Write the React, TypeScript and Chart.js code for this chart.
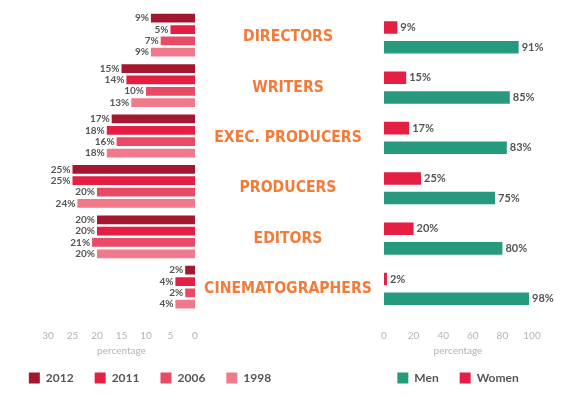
import { useEffect, useRef } from 'react';
import { Chart, registerables } from 'chart.js';

Chart.register(...registerables);

// ---- data ----
const categories = ['DIRECTORS', 'WRITERS', 'EXEC. PRODUCERS', 'PRODUCERS', 'EDITORS', 'CINEMATOGRAPHERS'];
const years = ['2012', '2011', '2006', '1998'];
const values2012 = [9, 15, 17, 25, 20, 2];
const values2011 = [5, 14, 18, 25, 20, 4];
const values2006 = [7, 10, 16, 20, 21, 2];
const values1998 = [9, 13, 18, 24, 20, 4];
const genderLabels = ['Women', 'Men'];
const womenValues = [9, 15, 17, 25, 20, 2];
const menValues = [91, 85, 83, 75, 80, 98];
const leftTicks = [0, 5, 10, 15, 20, 25, 30];
const rightTicks = [0, 20, 40, 60, 80, 100];
const axisTitle = 'percentage';

// ---- styles ----
const yearColors = ['#a3172f', '#e41f43', '#e94b67', '#ef7a8b'];
const womenColor = '#e41f43';
const menColor = '#279a7e';
const NUM_FONT = 'Lato, "Open Sans", sans-serif';
const LABEL_FAMILY = '"Liberation Sans Narrow", "DejaVu Sans Condensed", "Arial Narrow", "Roboto Condensed", Roboto, sans-serif';
const tickColor = '#b3b3b3';
const textColor = '#555555';
const orange = '#f47a38';

function valueLabelPlugin(side: 'left' | 'right', size: number) {
  return {
    id: 'valueLabels',
    afterDatasetsDraw(chart: any) {
      const ctx = chart.ctx;
      ctx.save();
      ctx.font = `bold ${size}px ${NUM_FONT}`;
      ctx.fillStyle = textColor;
      ctx.textBaseline = 'middle';
      ctx.textAlign = side === 'left' ? 'right' : 'left';
      chart.data.datasets.forEach((ds: any, i: number) => {
        const meta = chart.getDatasetMeta(i);
        if (meta.hidden) return;
        meta.data.forEach((el: any, j: number) => {
          const v = ds.data[j];
          const x = side === 'left' ? el.x - 2 : el.x + 3;
          ctx.fillText(`${v}%`, x, el.y);
        });
      });
      ctx.restore();
    },
  };
}

// Chart.js counts tick padding twice in the axis height; the title's top
// padding compensates so that the title sits just under the tick labels.
function xAxis(ticks: number[], reverse: boolean, padding: number) {
  return {
    type: 'linear',
    position: 'bottom',
    reverse,
    min: ticks[0],
    max: ticks[ticks.length - 1],
    grid: { display: false, drawTicks: false },
    border: { display: false },
    ticks: {
      stepSize: ticks[1] - ticks[0],
      color: tickColor,
      padding,
      font: { family: NUM_FONT, size: 10 },
    },
    title: {
      display: true,
      text: axisTitle,
      color: tickColor,
      font: { family: NUM_FONT, size: 10 },
      padding: { top: 3 - padding, bottom: -6 },
    },
  };
}

function padAxis(position: string, width: number) {
  return {
    type: 'linear',
    axis: 'y',
    position,
    display: true,
    grid: { display: false, drawTicks: false },
    border: { display: false },
    ticks: { display: false },
    afterFit: (s: any) => {
      s.width = width;
    },
  };
}

const legendOptions = (reverse: boolean) => ({
  position: 'bottom',
  reverse,
  labels: {
    boxWidth: 11,
    boxHeight: 11,
    padding: 21,
    color: textColor,
    font: { family: NUM_FONT, weight: 'bold', size: 12 },
  },
});

export default function App() {
  const leftRef = useRef<HTMLCanvasElement | null>(null);
  const rightRef = useRef<HTMLCanvasElement | null>(null);

  useEffect(() => {
    // measure label font to fit the reference width of the widest label
    const m = document.createElement('canvas').getContext('2d') as CanvasRenderingContext2D;
    m.font = `bold 20px ${LABEL_FAMILY}`;
    const w20 = Math.max(...categories.map((c) => m.measureText(c).width));
    const labelSize = Math.min(21, (20 * 168) / w20);
    m.font = `bold ${labelSize}px ${LABEL_FAMILY}`;
    const widest = Math.max(...categories.map((c) => m.measureText(c).width));
    const labelPad = 96 - widest / 2;

    const yearData = [values2012, values2011, values2006, values1998];

    const left = new Chart(leftRef.current as HTMLCanvasElement, {
      type: 'bar',
      data: {
        labels: categories,
        datasets: years.map((y, i) => ({
          label: y,
          data: yearData[i],
          backgroundColor: yearColors[i],
          borderWidth: 0,
          xAxisID: 'x',
          yAxisID: 'y',
          categoryPercentage: 0.9,
          barPercentage: 0.77,
        })),
      },
      options: {
        indexAxis: 'y',
        animation: false,
        responsive: false,
        maintainAspectRatio: false,
        layout: { padding: { left: 0, right: 0, top: 10, bottom: 4 } },
        scales: {
          x: xAxis(leftTicks, true, 17.6),
          y: {
            type: 'category',
            position: 'left',
            display: true,
            grid: { display: false, drawTicks: false },
            border: { display: false },
            ticks: { display: false },
            afterFit: (s: any) => {
              s.width = 48;
            },
          },
          pad: padAxis('right', 105),
        },
        plugins: {
          legend: legendOptions(false),
          tooltip: { enabled: false },
        },
      } as any,
      plugins: [valueLabelPlugin('left', 10)],
    });

    const genderData = [womenValues, menValues];
    const genderColors = [womenColor, menColor];
    const right = new Chart(rightRef.current as HTMLCanvasElement, {
      type: 'bar',
      data: {
        labels: categories,
        datasets: genderLabels.map((g, i) => ({
          label: g,
          data: genderData[i],
          backgroundColor: genderColors[i],
          borderWidth: 0,
          xAxisID: 'x',
          yAxisID: 'y',
          categoryPercentage: 0.78,
          barPercentage: 0.64,
        })),
      },
      options: {
        indexAxis: 'y',
        animation: false,
        responsive: false,
        maintainAspectRatio: false,
        layout: { padding: { left: 0, right: 0, top: 12.2, bottom: 4 } },
        scales: {
          x: xAxis(rightTicks, false, 16),
          y: {
            type: 'category',
            position: 'left',
            display: true,
            grid: { display: false, drawTicks: false },
            border: { display: false },
            ticks: {
              display: true,
              autoSkip: false,
              crossAlign: 'center',
              padding: labelPad,
              color: orange,
              font: { family: LABEL_FAMILY, weight: 'bold', size: labelSize },
            },
            afterFit: (s: any) => {
              s.width = 188;
              s.paddingTop = 0;
              s.paddingBottom = 0;
            },
          },
          pad: padAxis('right', 188),
        },
        plugins: {
          legend: legendOptions(true),
          tooltip: { enabled: false },
        },
      } as any,
      plugins: [valueLabelPlugin('right', 11)],
    });

    return () => {
      left.destroy();
      right.destroy();
    };
  }, []);

  return (
    <div
      style={{
        position: 'fixed',
        left: 0,
        top: 0,
        width: 577,
        height: 398,
        overflow: 'hidden',
        background: '#ffffff',
      }}
    >
      <canvas ref={leftRef} width={300} height={398} style={{ position: 'absolute', left: 0, top: 0 }} />
      <canvas ref={rightRef} width={524} height={398} style={{ position: 'absolute', left: 196, top: 0 }} />
    </div>
  );
}
